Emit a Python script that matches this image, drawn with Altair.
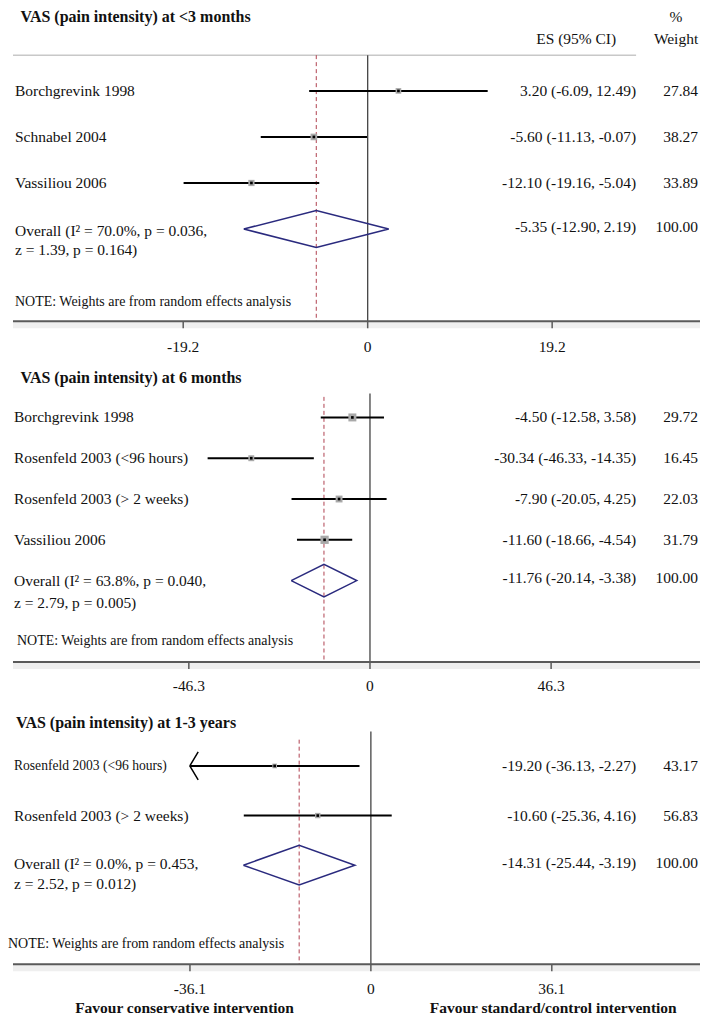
import altair as alt
import pandas as pd

FONT = "Liberation Serif"
INK = "#111111"

# ---------------- data ----------------
# Panel 1
p1_title = "VAS (pain intensity) at <3 months"
p1_names = ["Borchgrevink 1998", "Schnabel 2004", "Vassiliou 2006"]
p1_es = [3.20, -5.60, -12.10]
p1_lo = [-6.09, -11.13, -19.16]
p1_hi = [12.49, -0.07, -5.04]
p1_w = [27.84, 38.27, 33.89]
p1_overall = [-5.35, -12.90, 2.19]
p1_overall_text = ["Overall (I² = 70.0%, p = 0.036,", "z = 1.39, p = 0.164)"]
p1_ticks = [-19.2, 0, 19.2]

# Panel 2
p2_title = "VAS (pain intensity) at 6 months"
p2_names = ["Borchgrevink 1998", "Rosenfeld 2003 (<96 hours)",
            "Rosenfeld 2003 (> 2 weeks)", "Vassiliou 2006"]
p2_es = [-4.50, -30.34, -7.90, -11.60]
p2_lo = [-12.58, -46.33, -20.05, -18.66]
p2_hi = [3.58, -14.35, 4.25, -4.54]
p2_line_lo = [-12.58, -41.5, -20.05, -18.66]   # left ends as drawn in the figure
p2_w = [29.72, 16.45, 22.03, 31.79]
p2_overall = [-11.76, -20.14, -3.38]
p2_overall_text = ["Overall (I² = 63.8%, p = 0.040,", "z = 2.79, p = 0.005)"]
p2_ticks = [-46.3, 0, 46.3]

# Panel 3
p3_title = "VAS (pain intensity) at 1-3 years"
p3_names = ["Rosenfeld 2003 (<96 hours)", "Rosenfeld 2003 (> 2 weeks)"]
p3_es = [-19.20, -10.60]
p3_lo = [-36.13, -25.36]
p3_hi = [-2.27, 4.16]
p3_w = [43.17, 56.83]
p3_overall = [-14.31, -25.44, -3.19]
p3_overall_text = ["Overall (I² = 0.0%, p = 0.453,", "z = 2.52, p = 0.012)"]
p3_ticks = [-36.1, 0, 36.1]

note_text = "NOTE: Weights are from random effects analysis"
favour_left = "Favour conservative intervention"
favour_right = "Favour standard/control intervention"

# ---------------- layout (pixels within each panel) ----------------
W = 693
L1 = dict(H=352, zero=360.2, unit=9.622, first=82.3, gap=46.1, title_x=12.5, title_y=8,
          vtop=46.5, dtop=46.5, name_x=7, note_x=7, note_y=293.7, axis_y=313, tick_y=338.7,
          ov_dy=(2, 21.3), box_k=1.15, small_first=False)
L2 = dict(H=338, zero=362.5, unit=3.918, first=57.3, gap=40.85, title_x=12.5, title_y=17.7,
          vtop=33.3, dtop=36.7, name_x=6, note_x=9, note_y=281, axis_y=302.3, tick_y=326,
          ov_dy=(0, 22.7), box_k=2.15, small_first=False)
L3 = dict(H=318, zero=363.4, unit=5.019, first=68.3, gap=49.7, title_x=8, title_y=25.3,
          vtop=33.7, dtop=42, name_x=6, note_x=0, note_y=246.3, axis_y=267, tick_y=291.3,
          ov_dy=(-1.4, 19.3), box_k=0.51, small_first=True)
ES_RIGHT = 629
W_RIGHT = 691
FS = 15.5


def panel(title, names, es, lo, hi, w, line_lo, overall, ov_text, ticks, L,
          header=False, favour=False):
    n = len(names)
    xdom = [-L["zero"] / L["unit"], (W - L["zero"]) / L["unit"]]
    ydom = [-L["first"] / L["gap"], (L["H"] - L["first"]) / L["gap"]]
    xs = alt.Scale(domain=xdom, nice=False, zero=False)
    ys = alt.Scale(domain=ydom, nice=False, zero=False, reverse=True)

    def X(f):
        return alt.X(f, type="quantitative", scale=xs, axis=None)

    def Y(f):
        return alt.Y(f, type="quantitative", scale=ys, axis=None)

    st = pd.DataFrame({
        "name": names, "es": es, "lo": lo, "hi": hi, "w": w, "llo": line_lo,
        "row": list(range(n)),
    })
    st["es_lab"] = [f"{e:.2f} ({a:.2f}, {b:.2f})" for e, a, b in zip(es, lo, hi)]
    st["w_lab"] = [f"{v:.2f}" for v in w]
    st["box"] = st["w"] * L["box_k"]

    ov = pd.DataFrame({"es": [overall[0]], "lo": [overall[1]], "hi": [overall[2]], "row": [n],
                       "l1": [ov_text[0]], "l2": [ov_text[1]],
                       "es_lab": [f"{overall[0]:.2f} ({overall[1]:.2f}, {overall[2]:.2f})"],
                       "w_lab": ["100.00"]})
    dia = pd.DataFrame({
        "x": [overall[1], overall[0], overall[2], overall[0], overall[1]],
        "row": [n, n - 0.4, n, n + 0.4, n],
        "ord": [0, 1, 2, 3, 4],
    })
    tk = pd.DataFrame({"t": ticks, "lab": [f"{t:g}" for t in ticks]})
    one = pd.DataFrame({"a": [0]})
    zero = pd.DataFrame({"z": [0.0]})

    ay = L["axis_y"]
    layers = []
    # light band under the axis
    layers.append(alt.Chart(one).mark_rect(color="#efefef").encode(
        x=alt.value(5), x2=alt.value(W), y=alt.value(ay), y2=alt.value(ay + 7)))
    if header:
        layers.append(alt.Chart(one).mark_rule(color="#c8c8c8", strokeWidth=1.5).encode(
            x=alt.value(5), x2=alt.value(629), y=alt.value(46.5)))
    # no-effect line
    layers.append(alt.Chart(zero).mark_rule(color="#444444", strokeWidth=1.3).encode(
        x=X("z"), y=alt.value(L["vtop"]), y2=alt.value(ay)))
    # overall dashed line
    layers.append(alt.Chart(ov).mark_rule(color="#b0404f", strokeWidth=1, strokeDash=[4, 3]).encode(
        x=X("es"), y=alt.value(L["dtop"]), y2=alt.value(ay)))
    # CI lines
    layers.append(alt.Chart(st).mark_rule(color="black", strokeWidth=2).encode(
        x=X("llo"), x2="hi", y=Y("row")))
    # arrows for clipped CIs
    arr = st[st["llo"] < min(ticks)]
    if len(arr):
        layers.append(alt.Chart(arr).mark_point(
            shape="M 0 0 L 0.6 -1 M 0 0 L 0.6 1", size=784, filled=False,
            stroke="black", strokeWidth=1.5, opacity=1).encode(x=X("llo"), y=Y("row")))
    # weight boxes and centre dots
    layers.append(alt.Chart(st).mark_square(color="#a9a9a9", opacity=1).encode(
        x=X("es"), y=Y("row"), size=alt.Size("box:Q", scale=None, legend=None)))
    layers.append(alt.Chart(st).mark_square(color="black", size=7, opacity=1).encode(
        x=X("es"), y=Y("row")))
    # diamond
    layers.append(alt.Chart(dia).mark_line(color="#2a2a7e", strokeWidth=1.5).encode(
        x=X("x"), y=Y("row"), order=alt.Order("ord:Q")))

    txt = dict(font=FONT, fontSize=FS, color=INK, baseline="middle")
    name_size = (alt.condition("datum.row == 0", alt.value(13.6), alt.value(FS))
                 if L["small_first"] else alt.value(FS))
    layers.append(alt.Chart(st).mark_text(align="left", **txt).encode(
        x=alt.value(L["name_x"]), y=Y("row"), text="name:N", size=name_size))
    layers.append(alt.Chart(st).mark_text(align="right", **txt).encode(
        x=alt.value(ES_RIGHT), y=Y("row"), text="es_lab:N"))
    layers.append(alt.Chart(st).mark_text(align="right", **txt).encode(
        x=alt.value(W_RIGHT), y=Y("row"), text="w_lab:N"))
    layers.append(alt.Chart(ov).mark_text(align="right", dy=-2.5, **txt).encode(
        x=alt.value(ES_RIGHT), y=Y("row"), text="es_lab:N"))
    layers.append(alt.Chart(ov).mark_text(align="right", dy=-2.5, **txt).encode(
        x=alt.value(W_RIGHT), y=Y("row"), text="w_lab:N"))
    layers.append(alt.Chart(ov).mark_text(align="left", dy=L["ov_dy"][0], **txt).encode(
        x=alt.value(L["name_x"]), y=Y("row"), text="l1:N"))
    layers.append(alt.Chart(ov).mark_text(align="left", dy=L["ov_dy"][1], **txt).encode(
        x=alt.value(L["name_x"]), y=Y("row"), text="l2:N"))
    # title
    layers.append(alt.Chart(one).mark_text(align="left", font=FONT, fontSize=16,
                                           fontWeight="bold", color=INK, baseline="middle",
                                           text=title).encode(
        x=alt.value(L["title_x"]), y=alt.value(L["title_y"])))
    if header:
        layers.append(alt.Chart(one).mark_text(align="center", text="%", **txt).encode(
            x=alt.value(669), y=alt.value(8)))
        layers.append(alt.Chart(one).mark_text(align="center", text="ES (95% CI)", **txt).encode(
            x=alt.value(569), y=alt.value(30.3)))
        layers.append(alt.Chart(one).mark_text(align="center", text="Weight", **txt).encode(
            x=alt.value(669), y=alt.value(30)))
    # note
    layers.append(alt.Chart(one).mark_text(align="left", font=FONT, fontSize=14, color=INK,
                                           baseline="middle", text=note_text).encode(
        x=alt.value(L["note_x"]), y=alt.value(L["note_y"])))
    # axis line, ticks, labels
    layers.append(alt.Chart(one).mark_rule(color="#5a5a5a", strokeWidth=2).encode(
        x=alt.value(5), x2=alt.value(W), y=alt.value(ay)))
    layers.append(alt.Chart(tk).mark_rule(color="#5a5a5a", strokeWidth=1.5).encode(
        x=X("t"), y=alt.value(ay), y2=alt.value(ay + 7)))
    layers.append(alt.Chart(tk).mark_text(align="center", **txt).encode(
        x=X("t"), y=alt.value(L["tick_y"]), text="lab:N"))
    if favour:
        fb = dict(font=FONT, fontSize=15.5, fontWeight="bold", color=INK, baseline="middle")
        layers.append(alt.Chart(one).mark_text(align="center", text=favour_left, **fb).encode(
            x=alt.value(176.8), y=alt.value(310.5)))
        layers.append(alt.Chart(one).mark_text(align="center", text=favour_right, **fb).encode(
            x=alt.value(546), y=alt.value(310.5)))

    return alt.layer(*layers).properties(width=W, height=L["H"])


c1 = panel(p1_title, p1_names, p1_es, p1_lo, p1_hi, p1_w, p1_lo, p1_overall,
           p1_overall_text, p1_ticks, L1, header=True)
c2 = panel(p2_title, p2_names, p2_es, p2_lo, p2_hi, p2_w, p2_line_lo, p2_overall,
           p2_overall_text, p2_ticks, L2)
c3 = panel(p3_title, p3_names, p3_es, p3_lo, p3_hi, p3_w, p3_lo, p3_overall,
           p3_overall_text, p3_ticks, L3, favour=True)

chart = alt.vconcat(c1, c2, c3, spacing=0).resolve_scale(
    x="independent", y="independent"
).properties(padding=0).configure_view(strokeWidth=0)

chart.save("out.html", embed_options={"renderer": "svg", "actions": False})
